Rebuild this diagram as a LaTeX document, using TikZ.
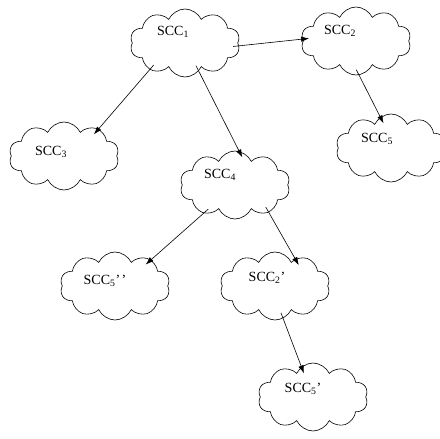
\documentclass[tikz,border=0pt]{standalone}
\usepackage{fontspec}
\setmainfont{Liberation Serif}
\usetikzlibrary{shapes.symbols, arrows.meta}
\begin{document}
\begin{tikzpicture}[x=1pt, y=-1pt,
        nube/.style={draw, semithick, cloud, cloud puffs=10, cloud puff arc=130,
        cloud ignores aspect, inner sep=0pt, minimum width=110pt,
        minimum height=68pt},
        etiqueta/.style={font=\fontsize{14}{16}\selectfont},
        flecha/.style={semithick, -{Latex[length=8pt, width=5.5pt]},
        shorten <=-6pt, shorten >=-7pt}
    ]
        \useasboundingbox (0,0) rectangle (440,439);
        \node[nube, label={[etiqueta, shift={(-12pt,11pt)}]center:SCC\textsubscript{1}}] (scc1) at (185,43) {};
        \node[nube, label={[etiqueta, shift={(-16pt,10pt)}]center:SCC\textsubscript{2}}] (scc2) at (356,41) {};
        \node[nube, label={[etiqueta, shift={(-13pt,4pt)}]center:SCC\textsubscript{3}}] (scc3) at (64,156) {};
        \node[nube, label={[etiqueta, shift={(-14pt,9pt)}]center:SCC\textsubscript{5}}] (scc5) at (391,148) {};
        \node[nube, label={[etiqueta, shift={(-15pt,10pt)}]center:SCC\textsubscript{4}}] (scc4) at (235,185) {};
        \node[nube, label={[etiqueta, shift={(-10pt,5pt)}]center:SCC\textsubscript{5}’\kern1.5pt’}] (scc5pp) at (115,286) {};
        \node[nube, label={[etiqueta, shift={(-8pt,8pt)}]center:SCC\textsubscript{2}’}] (scc2p) at (275,286) {};
        \node[nube, label={[etiqueta, shift={(-10pt,8pt)}]center:SCC\textsubscript{5}’}] (scc5p) at (313,397) {};
        \draw[flecha] (scc1.-3) -- (scc2.178);
        \draw[flecha] (scc1.-143) -- (scc3.38);
        \draw[flecha] (scc1.-64) -- (scc4.83);
        \draw[flecha] (scc2.-85) -- (scc5.109);
        \draw[flecha] (scc4.-138) -- (scc5pp.36);
        \draw[flecha] (scc4.-39) -- (scc2p.53);
        \draw[flecha] (scc2p.-76) -- (scc5p.111);
    \end{tikzpicture}
\end{document}
